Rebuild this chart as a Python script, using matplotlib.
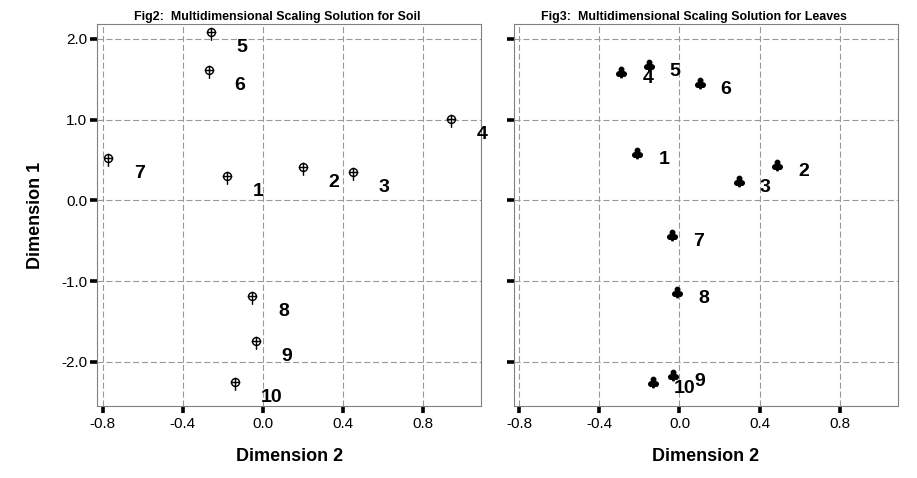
import matplotlib
matplotlib.use("Agg")
import matplotlib.pyplot as plt
from matplotlib.path import Path
import numpy as np

plt.rcParams['font.family'] = ['Liberation Sans', 'DejaVu Sans']

# point labels (stimulus numbers)
labels = ['1', '2', '3', '4', '5', '6', '7', '8', '9', '10']

# Fig2: soil solution (dimension 2 on x, dimension 1 on y)
soil_dim2 = [-0.18, 0.20, 0.45, 0.94, -0.26, -0.268, -0.772, -0.052, -0.035, -0.139]
soil_dim1 = [0.298, 0.414, 0.352, 1.002, 2.09, 1.615, 0.526, -1.18, -1.739, -2.257]

# Fig3: leaves solution
leaf_dim2 = [-0.21, 0.487, 0.295, -0.29, -0.153, 0.10, -0.037, -0.01, -0.03, -0.133]
leaf_dim1 = [0.584, 0.435, 0.236, 1.594, 1.677, 1.457, -0.435, -1.139, -2.165, -2.257]

x_ticks = [-0.8, -0.4, 0.0, 0.4, 0.8]
y_ticks = [-2.0, -1.0, 0.0, 1.0, 2.0]

# circle with a cross and a stem going down (SPSS style marker)
circ = Path.unit_circle()
stem = Path([[0, 1.2], [0, -2.1]], [Path.MOVETO, Path.LINETO])
bar = Path([[-1.2, 0], [1.2, 0]], [Path.MOVETO, Path.LINETO])
pin_marker = Path.make_compound_path(circ, stem, bar)

fig = plt.figure(figsize=(9.17, 4.78), dpi=100)
ax1 = fig.add_axes([0.1061, 0.1506, 0.4184, 0.7992])
ax2 = fig.add_axes([0.5605, 0.1506, 0.4184, 0.7992])


def style_axis(ax, title, show_ylabels):
    ax.set_xlim(-0.827, 1.09)
    ax.set_ylim(-2.549, 2.185)
    ax.set_xticks(x_ticks)
    ax.set_yticks(y_ticks)
    ax.set_xticklabels(['%.1f' % v for v in x_ticks])
    if show_ylabels:
        ax.set_yticklabels(['%.1f' % v for v in y_ticks])
    else:
        ax.set_yticklabels([])
    ax.tick_params(axis='both', direction='out', length=4.8, width=2.6,
                   color='black', labelsize=11, pad=2.5)
    ax.tick_params(axis='x', pad=3)
    for s in ax.spines.values():
        s.set_color('#808080')
        s.set_linewidth(0.8)
    ax.grid(True, color='#999999', linewidth=0.8, linestyle=(0, (5.5, 2.5)))
    ax.set_axisbelow(True)
    ax.set_title(title, fontsize=8.9, fontweight='bold', x=0.47, pad=3)
    ax.set_xlabel('Dimension 2', fontsize=13, fontweight='bold', labelpad=12)


# ---- soil ----
ax1.plot(soil_dim2, soil_dim1, linestyle='none', marker=pin_marker, markersize=12,
         markerfacecolor='none', markeredgecolor='black', markeredgewidth=1.0,
         clip_on=False, zorder=3)
for lab, x, y in zip(labels, soil_dim2, soil_dim1):
    ax1.annotate(lab, (x, y), xytext=(18.4, -14.4), textcoords='offset points',
                 ha='left', va='baseline', fontsize=14, fontweight='bold',
                 annotation_clip=False, zorder=4)
style_axis(ax1, 'Fig2:  Multidimensional Scaling Solution for Soil', True)
ax1.set_ylabel('Dimension 1', fontsize=13, fontweight='bold', labelpad=12)

# ---- leaves ----
ax2.plot(leaf_dim2, leaf_dim1, linestyle='none', marker=r'$\clubsuit$', markersize=7.5,
         color='black', clip_on=False, zorder=3)
for lab, x, y in zip(labels, leaf_dim2, leaf_dim1):
    ax2.annotate(lab, (x, y), xytext=(15.1, -7.9), textcoords='offset points',
                 ha='left', va='baseline', fontsize=14, fontweight='bold',
                 annotation_clip=False, zorder=4)
style_axis(ax2, 'Fig3:  Multidimensional Scaling Solution for Leaves', False)

fig.savefig('out.png', dpi=100)
